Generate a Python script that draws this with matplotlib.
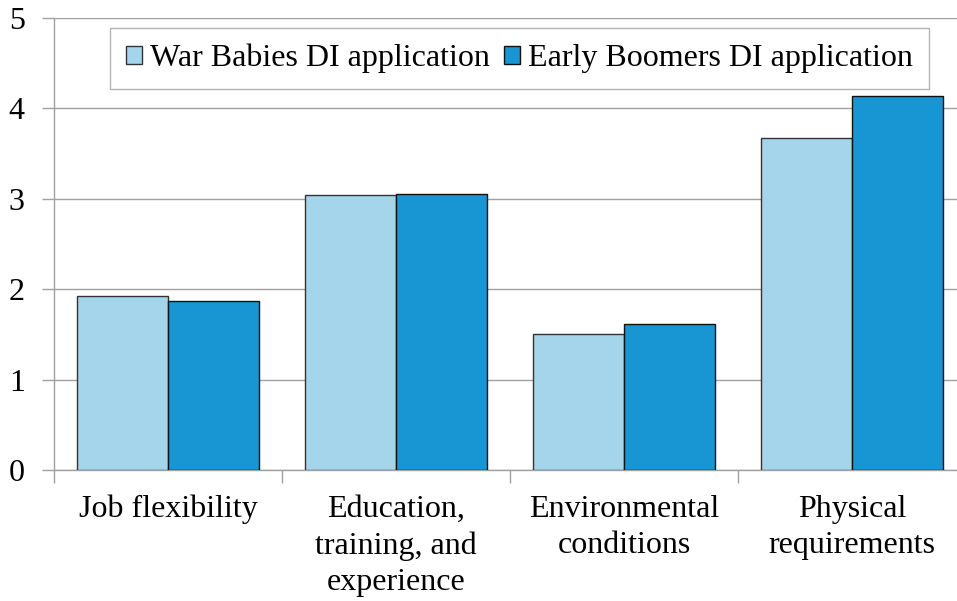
import matplotlib
matplotlib.use("Agg")
import matplotlib.pyplot as plt
import numpy as np
from matplotlib.patches import Patch

categories = ["Job flexibility", "Education,\ntraining, and\nexperience", "Environmental\nconditions", "Physical\nrequirements"]
series_names = ["War Babies DI application", "Early Boomers DI application"]
war_babies = [1.93, 3.04, 1.50, 3.67]
early_boomers = [1.87, 3.05, 1.615, 4.14]
yticks = [0, 1, 2, 3, 4, 5]

light = "#A5D5EB"
dark = "#1896D3"
FS = 23

plt.rcParams["font.family"] = ["Liberation Serif", "DejaVu Serif"]
fig = plt.figure(figsize=(9.57, 6.01), dpi=100)
W, H = 957, 601
left, right, bottom, top = 54, 966, 470, 18
ax = fig.add_axes([left / W, 1 - bottom / H, (right - left) / W, (bottom - top) / H])

x = np.arange(len(categories))
bw = 0.4
ax.bar(x - bw / 2, war_babies, bw, color=light, edgecolor="#333333", linewidth=1.0, zorder=3)
ax.bar(x + bw / 2, early_boomers, bw, color=dark, edgecolor="#111111", linewidth=1.0, zorder=3)

ax.set_xlim(-0.5, len(categories) - 0.5)
ax.set_ylim(0, 5)
ax.set_yticks(yticks)
ax.set_yticklabels([str(t) for t in yticks], fontsize=FS)
ax.yaxis.grid(True, color="#A0A0A0", linewidth=1.0, zorder=0)
ax.set_axisbelow(True)

ax.set_xticks(np.arange(len(categories) + 1) - 0.5)
ax.set_xticklabels([])
ax.set_xticks(x, minor=True)
ax.set_xticklabels(categories, minor=True, fontsize=FS, linespacing=1.32)
ax.tick_params(axis="x", which="minor", length=0, pad=18)
ax.tick_params(axis="x", which="major", length=9, color="#A0A0A0", width=1)
ax.tick_params(axis="y", length=9, color="#A0A0A0", width=1, pad=12)

for s in ["top", "right"]:
    ax.spines[s].set_visible(False)
for s in ["left", "bottom"]:
    ax.spines[s].set_color("#A0A0A0")
    ax.spines[s].set_linewidth(1.0)

handles = [Patch(facecolor=light, edgecolor="#333333", linewidth=1.0),
           Patch(facecolor=dark, edgecolor="#111111", linewidth=1.0)]
leg = ax.legend(handles, series_names, loc="upper left",
                bbox_to_anchor=((110 - left) / (right - left), 1 - (28 - top) / (bottom - top)),
                ncol=2, fontsize=FS, frameon=True, fancybox=False, borderpad=0.5,
                handlelength=0.5, handleheight=0.5, handletextpad=0.25, columnspacing=0.45,
                borderaxespad=0)
leg.get_frame().set_edgecolor("#A0A0A0")
leg.get_frame().set_linewidth(1.0)

fig.savefig("out.png", dpi=100)
